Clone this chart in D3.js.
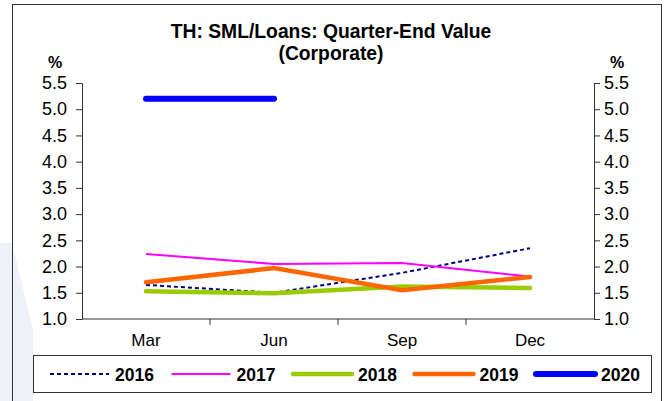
<!DOCTYPE html>
<html>
<head>
<meta charset="utf-8">
<script src="https://cdn.jsdelivr.net/npm/d3@7"></script>
<style>
  html, body { margin: 0; padding: 0; background: #fff; }
  svg { display: block; font-family: "Liberation Sans", Arial, sans-serif; }
</style>
</head>
<body>
<svg id="chart" width="667" height="401"></svg>
<script>
// Quarter-end special-mention loans as a share of corporate loans
const quarters = ["Mar", "Jun", "Sep", "Dec"];
const years = ["2016", "2017", "2018", "2019", "2020"];
const yTicks = [1.0, 1.5, 2.0, 2.5, 3.0, 3.5, 4.0, 4.5, 5.0, 5.5];

const v2016 = [1.65, 1.50, 1.88, 2.35];
const v2017 = [2.24, 2.05, 2.07, 1.81];
const v2018 = [1.53, 1.49, 1.62, 1.59];
const v2019 = [1.70, 1.97, 1.55, 1.80];
const v2020 = [5.20, 5.20];

const seriesValues = [v2016, v2017, v2018, v2019, v2020];
const styles = [
  { color: "#000080", width: 2,   dash: "4,3", cap: "butt" },
  { color: "#ff00ff", width: 2,   dash: null,  cap: "butt" },
  { color: "#99cc00", width: 4.5, dash: null,  cap: "round" },
  { color: "#ff6600", width: 4.5, dash: null,  cap: "round" },
  { color: "#0000ff", width: 6,   dash: null,  cap: "round" }
];

const svg = d3.select("#chart");

// faint background wedge at the left edge
svg.append("path")
  .attr("d", "M0,243 L12,243 L33,330 L33,401 L0,401 Z")
  .attr("fill", "#f0f0f8");

// outer frame
svg.append("rect")
  .attr("x", 12.5).attr("y", 4.5)
  .attr("width", 649).attr("height", 410)
  .attr("fill", "none").attr("stroke", "#333").attr("stroke-width", 1);

// title, set in a tall condensed bold face
const title = svg.append("g").attr("transform", "translate(331,0) scale(0.92,1)");
const titleText = title.append("text")
  .attr("text-anchor", "middle")
  .attr("font-weight", "bold")
  .attr("font-size", 21)
  .attr("fill", "#000");
titleText.append("tspan").attr("x", 0).attr("y", 38).text("TH: SML/Loans: Quarter-End Value");
titleText.append("tspan").attr("x", 0).attr("y", 60).text("(Corporate)");

// unit labels
svg.append("text").attr("x", 55).attr("y", 68).attr("text-anchor", "middle")
  .attr("font-weight", "bold").attr("font-size", 16).text("%");
svg.append("text").attr("x", 617).attr("y", 68).attr("text-anchor", "middle")
  .attr("font-weight", "bold").attr("font-size", 16).text("%");

const plotLeft = 82, plotRight = 594, plotTop = 83, plotBottom = 319;
const x = d3.scaleBand().domain(quarters).range([plotLeft, plotRight]);
const y = d3.scaleLinear().domain([1, 5.5]).range([plotBottom, plotTop]);

const fmt = d3.format(".1f");

const gl = svg.append("g").attr("transform", `translate(${plotLeft},0)`)
  .call(d3.axisLeft(y).tickValues(yTicks).tickFormat(fmt).tickSize(6).tickPadding(9));
const gr = svg.append("g").attr("transform", `translate(${plotRight},0)`)
  .call(d3.axisRight(y).tickValues(yTicks).tickFormat(fmt).tickSize(6).tickPadding(4));
[gl, gr].forEach(g => {
  g.select(".domain").attr("stroke", "#333");
  g.selectAll(".tick line").attr("stroke", "#333");
  g.selectAll(".tick text").attr("font-size", 18).attr("fill", "#000")
    .attr("font-family", "Liberation Sans, Arial, sans-serif");
});

// category axis: ticks at the band boundaries, labels centred in each band
const gb = svg.append("g").attr("transform", `translate(0,${plotBottom})`);
gb.append("line").attr("x1", plotLeft).attr("x2", plotRight).attr("stroke", "#333");
gb.selectAll("line.tk").data(quarters.slice(1)).join("line")
  .attr("class", "tk")
  .attr("x1", d => x(d)).attr("x2", d => x(d))
  .attr("y1", 0).attr("y2", 6).attr("stroke", "#333");
gb.selectAll("text").data(quarters).join("text")
  .attr("x", d => x(d) + x.bandwidth() / 2)
  .attr("y", 27)
  .attr("text-anchor", "middle")
  .attr("font-size", 17)
  .text(d => d);

// series lines
const line = d3.line()
  .x((d, i) => x(quarters[i]) + x.bandwidth() / 2)
  .y(d => y(d));

svg.append("g").selectAll("path").data(seriesValues).join("path")
  .attr("d", d => line(d))
  .attr("fill", "none")
  .attr("stroke", (d, i) => styles[i].color)
  .attr("stroke-width", (d, i) => styles[i].width)
  .attr("stroke-dasharray", (d, i) => styles[i].dash)
  .attr("stroke-linecap", (d, i) => styles[i].cap)
  .attr("stroke-linejoin", "miter");

// legend
svg.append("rect")
  .attr("x", 33.5).attr("y", 355.5).attr("width", 618).attr("height", 37)
  .attr("fill", "#fff").attr("stroke", "#333");

const lg = svg.append("g").selectAll("g").data(years).join("g")
  .attr("transform", (d, i) => `translate(${50 + i * 121.5},374)`);
lg.append("line")
  .attr("x1", 0).attr("x2", 59)
  .attr("stroke", (d, i) => styles[i].color)
  .attr("stroke-width", (d, i) => styles[i].width)
  .attr("stroke-dasharray", (d, i) => styles[i].dash)
  .attr("stroke-linecap", (d, i) => styles[i].cap);
lg.append("text")
  .attr("x", 65).attr("y", 6.5)
  .attr("font-weight", "bold").attr("font-size", 17.5)
  .text(d => d);
</script>
</body>
</html>
